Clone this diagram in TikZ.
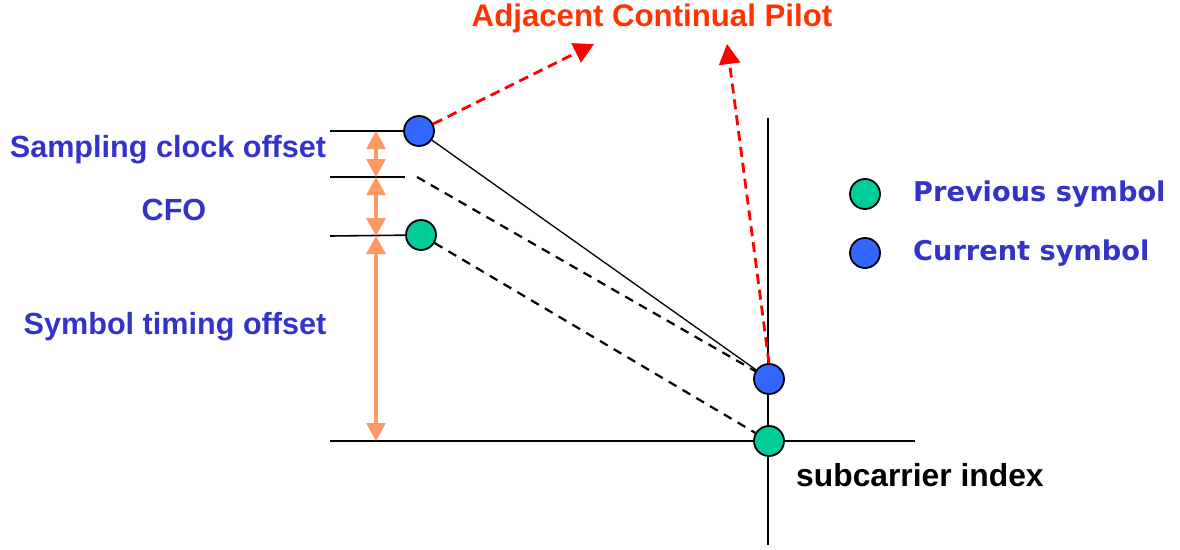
\documentclass[tikz,border=0pt]{standalone}
\usepackage{fontspec}
\setmainfont{Liberation Sans}
\newfontfamily\legendfont{DejaVu Sans}
\usetikzlibrary{arrows.meta}
\definecolor{txtblue}{HTML}{3333CC}
\definecolor{titlered}{HTML}{FF3300}
\definecolor{arrred}{HTML}{FF0000}
\definecolor{dotblue}{HTML}{3366FF}
\definecolor{dotgreen}{HTML}{00CC99}
\definecolor{orng}{HTML}{FF9966}
\tikzset{
  dot/.style={circle, draw=black, line width=1.8pt, minimum size=30pt, inner sep=0pt},
  bluedot/.style={dot, fill=dotblue},
  greendot/.style={dot, fill=dotgreen},
  axis/.style={line width=1.6pt, black},
  tick/.style={line width=1.6pt, black},
  slope/.style={line width=1.3pt, black},
  dslope/.style={line width=2.2pt, black, dash pattern=on 9pt off 7pt},
  redarr/.style={line width=2.8pt, arrred, dash pattern=on 10pt off 6pt, -{Triangle[length=20pt,width=21pt]}},
  orarr/.style={line width=3.2pt, orng, {Triangle[length=18pt,width=19pt]}-{Triangle[length=18pt,width=19pt]}},
  lbl/.style={font=\fontsize{30.6}{32}\selectfont\bfseries, text=txtblue, inner sep=0pt},
  leg/.style={font=\fontsize{27.2}{30}\selectfont\legendfont\bfseries, text=txtblue, inner sep=0pt, anchor=west},
}
\begin{document}
\begin{tikzpicture}[x=1pt, y=-1pt]
\useasboundingbox (0,0) rectangle (1180,549);
% axes
\coordinate (vt) at (768,118);
\coordinate (vb) at (768,545);
\coordinate (hl) at (330,441);
\coordinate (hr) at (915,441);
\draw[axis] (vt) -- (vb);
\draw[axis] (hl) -- (hr);
% circles
\node[bluedot] (b1) at (419,131) {};
\node[greendot] (g1) at (421,235) {};
\node[bluedot] (b2) at (769,379) {};
\node[greendot] (g2) at (769,441) {};
% ticks
\coordinate (t1) at (330,131);
\coordinate (t2) at (330,177);
\coordinate (t2e) at (405,177);
\coordinate (t3) at (330,236);
\draw[tick] (t1) -- (b1);
\draw[tick] (t2) -- (t2e);
\draw[tick] (t3) -- (g1);
% slopes
\coordinate (m1) at (417,177);
\draw[slope] (b1) -- (b2);
\draw[dslope] (m1) -- (b2);
\draw[dslope] (g1) -- (g2);
% orange arrows
\coordinate (o1) at (376,131);
\coordinate (o2) at (376,177);
\coordinate (o3) at (376,236);
\coordinate (o4) at (376,441);
\draw[orarr] (o1) -- (o2);
\draw[orarr] (o2) -- (o3);
\draw[orarr] (o3) -- (o4);
% red arrows
\coordinate (r1) at (594,44);
\coordinate (r2) at (727,44);
\draw[redarr] (b1) -- (r1);
\draw[redarr] (b2.north) -- (r2);
% title
\node[font=\fontsize{31.2}{33}\selectfont\bfseries, text=titlered, inner sep=0pt] (title) at (652,18) {Adjacent Continual Pilot};
% left labels
\node[lbl] (sco) at (168,150) {Sampling clock offset};
\node[lbl] (cfo) at (174,210) {CFO};
\node[lbl] (sto) at (175,327) {Symbol timing offset};
% legend
\node[greendot] (lg) at (865,194) {};
\node[bluedot] (lb) at (865,253) {};
\node[leg] (lgt) at (913,194) {Previous symbol};
\node[leg] (lbt) at (913,253) {Current symbol};
% axis label
\node[font=\fontsize{31.8}{33}\selectfont\bfseries, inner sep=0pt, anchor=west] (sci) at (796,475) {subcarrier index};
\end{tikzpicture}
\end{document}
